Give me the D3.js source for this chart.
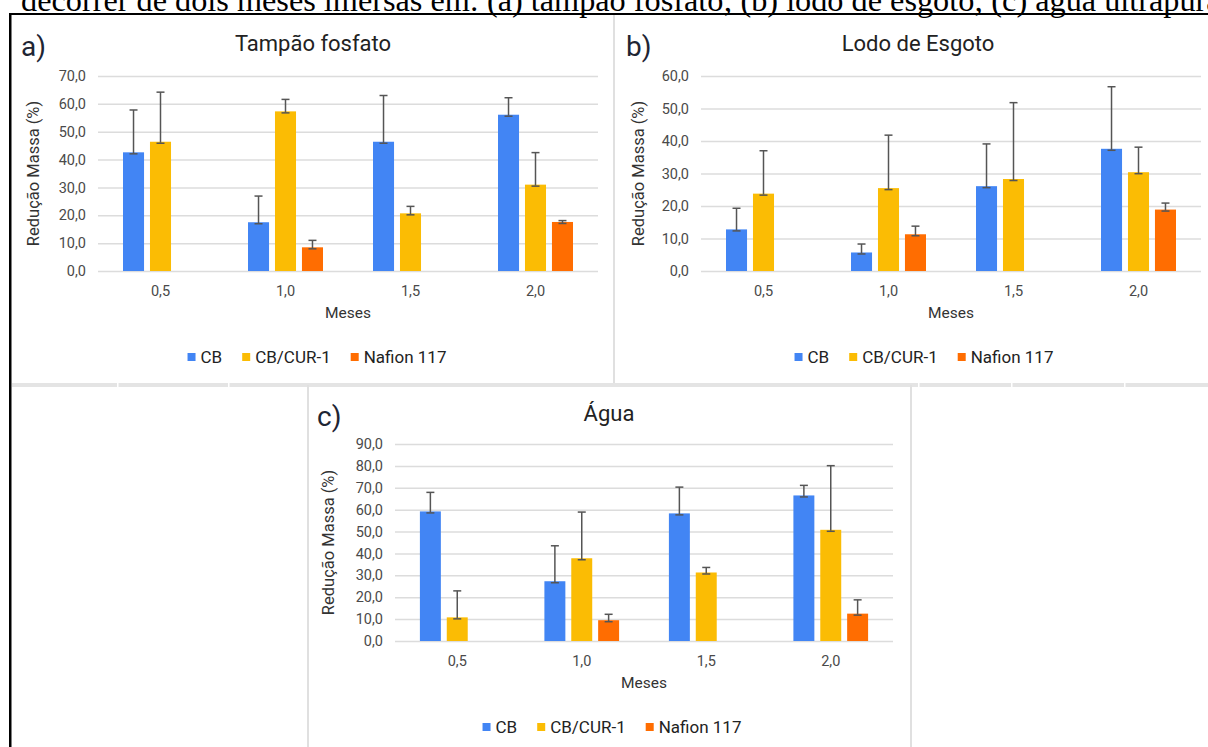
<!DOCTYPE html>
<html>
<head>
<meta charset="utf-8">
<script src="https://cdn.jsdelivr.net/npm/d3@7"></script>
<style>
  body { margin: 0; background: #fff; }
  svg { display: block; font-family: Roboto, "Liberation Sans", Arial, sans-serif; }
</style>
</head>
<body>
<svg id="chart" width="1208" height="747"></svg>
<script>
const months = ["0,5", "1,0", "1,5", "2,0"];
const seriesNames = ["CB", "CB/CUR-1", "Nafion 117"];
const seriesColors = ["#4285f4", "#fbbc04", "#ff6d01"];

// (a) Tampão fosfato
const tampaoCB = [42.6, 17.5, 46.4, 56.1];
const tampaoCUR = [46.4, 57.3, 20.7, 31.0];
const tampaoNafion = [null, 8.5, null, 17.6];
const tampaoCBErr = [15.2, 9.4, 16.6, 6.1];
const tampaoCURErr = [17.8, 4.3, 2.5, 11.5];
const tampaoNafionErr = [null, 2.5, null, 0.5];

// (b) Lodo de Esgoto
const lodoCB = [12.8, 5.7, 26.1, 37.6];
const lodoCUR = [23.8, 25.5, 28.3, 30.4];
const lodoNafion = [null, 11.3, null, 18.9];
const lodoCBErr = [6.5, 2.6, 13.0, 19.1];
const lodoCURErr = [13.2, 16.3, 23.5, 7.7];
const lodoNafionErr = [null, 2.5, null, 2.0];

// (c) Água
const aguaCB = [59.2, 27.3, 58.3, 66.5];
const aguaCUR = [10.8, 37.8, 31.3, 50.8];
const aguaNafion = [null, 9.5, null, 12.5];
const aguaCBErr = [8.7, 16.2, 12.0, 4.6];
const aguaCURErr = [12.1, 21.1, 2.3, 29.3];
const aguaNafionErr = [null, 2.7, null, 6.3];

const caption = "decorrer de dois meses imersas em: (a) tampão fosfato; (b) lodo de esgoto; (c) água ultrapura";

const panels = [
  { letter: "a)", title: "Tampão fosfato", yMax: 70,
    values: [tampaoCB, tampaoCUR, tampaoNafion], errors: [tampaoCBErr, tampaoCURErr, tampaoNafionErr],
    xRange: [98, 598], yRange: [271, 76], titleX: 313, letterX: 21, yTitleX: 39, legendX: 317 },
  { letter: "b)", title: "Lodo de Esgoto", yMax: 60,
    values: [lodoCB, lodoCUR, lodoNafion], errors: [lodoCBErr, lodoCURErr, lodoNafionErr],
    xRange: [701, 1201], yRange: [271, 76], titleX: 918, letterX: 626, yTitleX: 644, legendX: 924 },
  { letter: "c)", title: "Água", yMax: 90,
    values: [aguaCB, aguaCUR, aguaNafion], errors: [aguaCBErr, aguaCURErr, aguaNafionErr],
    xRange: [395, 893], yRange: [641, 444], titleX: 609, letterX: 317, yTitleX: 334, legendX: 612 }
];

const svg = d3.select("#chart");
const fmt = d => d.toFixed(1).replace(".", ",");

// document background: caption, outer frame and sheet cell lines
const cap = svg.append("text")
  .attr("x", 21).attr("y", 11)
  .attr("font-family", "'Liberation Serif', 'Times New Roman', serif")
  .attr("font-size", 26).attr("fill", "#000")
  .text(caption);
const capLen = cap.node().getComputedTextLength();
cap.attr("font-size", 26 * 1200 / capLen);

svg.append("rect").attr("x", 10).attr("y", 13).attr("width", 1198).attr("height", 2).attr("fill", "#000");
svg.append("rect").attr("x", 9).attr("y", 13).attr("width", 2.5).attr("height", 734).attr("fill", "#000");

// light sheet grid around the panels
svg.append("rect").attr("x", 12).attr("y", 383).attr("width", 1196).attr("height", 4).attr("fill", "#e4e4e4");
[117, 228, 918, 1011, 1124].forEach(cx => {
  svg.append("rect").attr("x", cx).attr("y", 383).attr("width", 1.5).attr("height", 4).attr("fill", "#fff");
});
svg.append("rect").attr("x", 613).attr("y", 15).attr("width", 2).attr("height", 368).attr("fill", "#e0e0e0");
svg.append("rect").attr("x", 307).attr("y", 385).attr("width", 2).attr("height", 362).attr("fill", "#e0e0e0");
svg.append("rect").attr("x", 910).attr("y", 385).attr("width", 2).attr("height", 362).attr("fill", "#e0e0e0");

panels.forEach(p => {
  const g = svg.append("g");
  const zeroY = p.yRange[0];

  const x = d3.scaleBand().domain(months).range(p.xRange);
  const bw = x.bandwidth();
  const inner = d3.scaleBand().domain(seriesNames)
    .range([bw * 0.2, bw * 0.8]).paddingInner(0.22);
  const y = d3.scaleLinear().domain([0, p.yMax]).range(p.yRange);

  // gridlines + y labels
  const yAxis = g.append("g")
    .attr("transform", `translate(${p.xRange[0]},0)`)
    .call(d3.axisLeft(y)
      .tickValues(d3.range(0, p.yMax + 1, 10))
      .tickSize(-(p.xRange[1] - p.xRange[0]))
      .tickPadding(12)
      .tickFormat(fmt));
  yAxis.select(".domain").remove();
  yAxis.selectAll(".tick line").attr("stroke", "#dcdcdc").attr("stroke-width", 1.5);
  yAxis.selectAll(".tick text")
    .attr("fill", "#4a4a4a").attr("font-size", 14.5).attr("font-family", "Roboto, Arial, sans-serif");

  // x labels
  g.selectAll("text.xlab").data(months).join("text")
    .attr("class", "xlab")
    .attr("x", d => x(d) + bw / 2)
    .attr("y", zeroY + 25)
    .attr("text-anchor", "middle")
    .attr("font-size", 14.5).attr("fill", "#4a4a4a")
    .text(d => d);

  // bars
  seriesNames.forEach((s, si) => {
    const vals = p.values[si];
    const errs = p.errors[si];
    const pts = months.map((m, i) => ({ m, v: vals[i], e: errs[i] })).filter(d => d.v != null);

    g.selectAll(`rect.bar${si}`).data(pts).join("rect")
      .attr("class", `bar${si}`)
      .attr("x", d => x(d.m) + inner(s))
      .attr("y", d => y(d.v))
      .attr("width", inner.bandwidth())
      .attr("height", d => zeroY - y(d.v))
      .attr("fill", seriesColors[si]);

    const eb = g.selectAll(`g.err${si}`).data(pts).join("g")
      .attr("class", `err${si}`)
      .attr("stroke", "#555").attr("stroke-width", 1.5);
    const cx = d => x(d.m) + inner(s) + inner.bandwidth() / 2;
    eb.append("line")
      .attr("x1", cx).attr("x2", cx)
      .attr("y1", d => y(d.v) + 1).attr("y2", d => y(d.v + d.e));
    eb.append("line")
      .attr("x1", d => cx(d) - 4).attr("x2", d => cx(d) + 4)
      .attr("y1", d => y(d.v + d.e)).attr("y2", d => y(d.v + d.e));
    eb.append("line")
      .attr("x1", d => cx(d) - 4).attr("x2", d => cx(d) + 4)
      .attr("y1", d => y(d.v) + 1.5).attr("y2", d => y(d.v) + 1.5);
  });

  // titles
  g.append("text")
    .attr("x", p.titleX).attr("y", zeroY - 220)
    .attr("text-anchor", "middle")
    .attr("font-size", 22).attr("fill", "#222")
    .text(p.title);
  g.append("text")
    .attr("x", p.letterX).attr("y", zeroY - 215)
    .attr("font-size", 28).attr("fill", "#1e2533")
    .text(p.letter);

  // axis titles
  g.append("text")
    .attr("transform", `translate(${p.yTitleX},${(p.yRange[0] + p.yRange[1]) / 2}) rotate(-90)`)
    .attr("text-anchor", "middle")
    .attr("font-size", 16.5).attr("fill", "#333")
    .text("Redução Massa (%)");
  g.append("text")
    .attr("x", (p.xRange[0] + p.xRange[1]) / 2).attr("y", zeroY + 47)
    .attr("text-anchor", "middle")
    .attr("font-size", 15.5).attr("fill", "#333")
    .text("Meses");

  // legend
  const lg = g.append("g");
  let cur = 0;
  seriesNames.forEach((s, si) => {
    const item = lg.append("g").attr("transform", `translate(${cur},0)`);
    item.append("rect").attr("x", 0).attr("y", -10).attr("width", 8).attr("height", 8)
      .attr("fill", seriesColors[si]);
    const t = item.append("text").attr("x", 13).attr("y", 0)
      .attr("font-size", 17).attr("fill", "#222").text(s);
    cur += 13 + t.node().getComputedTextLength() + 20;
  });
  const total = cur - 20;
  lg.attr("transform", `translate(${p.legendX - total / 2},${zeroY + 92})`);
});
</script>
</body>
</html>
